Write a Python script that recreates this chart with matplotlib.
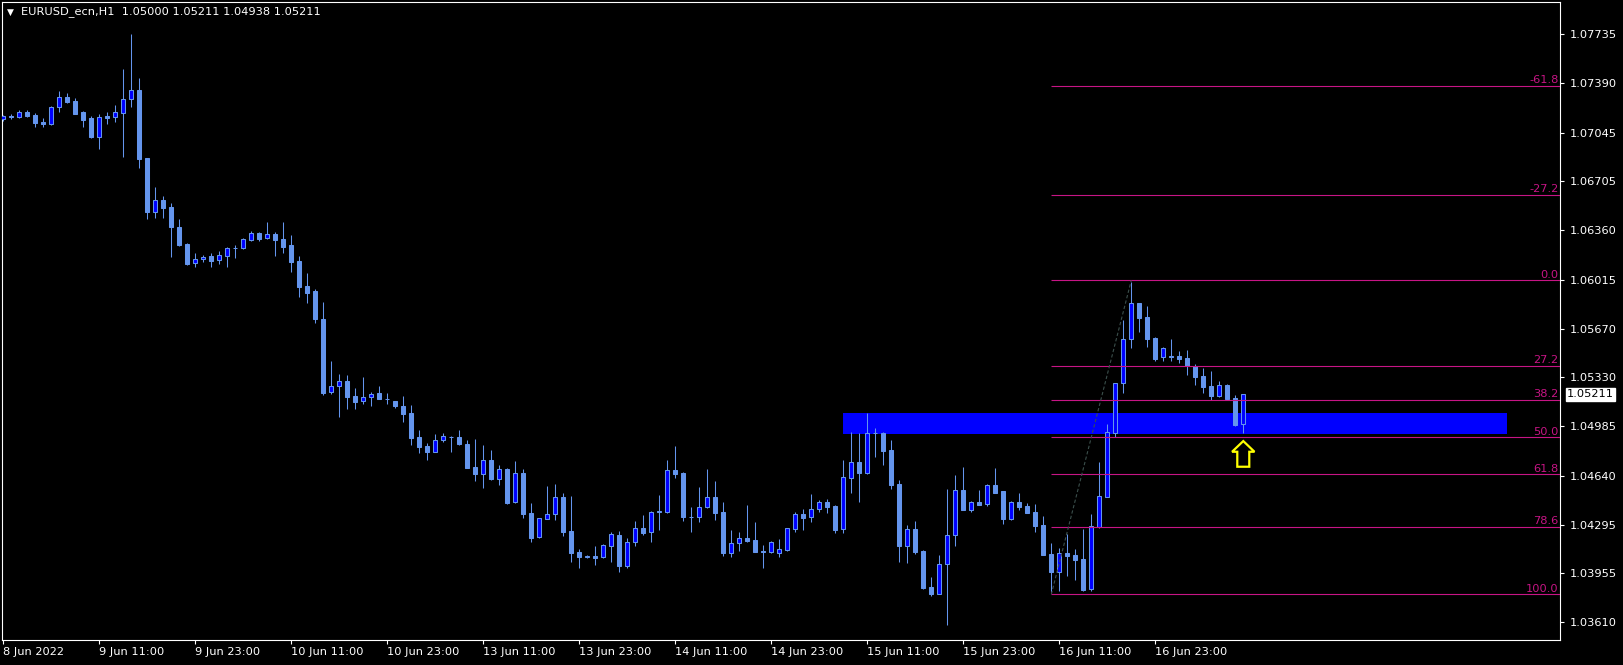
import matplotlib
matplotlib.use('Agg')
import matplotlib.pyplot as plt
from matplotlib.patches import Rectangle, FancyArrow
from matplotlib.transforms import blended_transform_factory

# EURUSD H1 candles, first bar = 8 Jun 2022 23:00
opens = [1.07138, 1.07161, 1.07157, 1.07189, 1.07168, 1.07119, 1.07105, 1.07222, 1.07295, 1.07267,
         1.07189, 1.07147, 1.07016, 1.07159, 1.07157, 1.07180, 1.07278, 1.07344, 1.06867, 1.06486,
         1.06572, 1.06523, 1.06383, 1.06264, 1.06128, 1.06158, 1.06179, 1.06149, 1.06182, 1.06238,
         1.06238, 1.06294, 1.06341, 1.06303, 1.06334, 1.06299, 1.06257, 1.06144, 1.05969, 1.05934,
         1.05738, 1.05223, 1.05265, 1.05303, 1.05195, 1.05160, 1.05188, 1.05216, 1.05179, 1.05162,
         1.05128, 1.05078, 1.04912, 1.04849, 1.04807, 1.04887, 1.04912, 1.04910, 1.04861, 1.04700,
         1.04653, 1.04746, 1.04613, 1.04686, 1.04454, 1.04658, 1.04377, 1.04209, 1.04337, 1.04368,
         1.04489, 1.04251, 1.04103, 1.04072, 1.04073, 1.04066, 1.04143, 1.04223, 1.04005, 1.04171,
         1.04272, 1.04241, 1.04387, 1.04387, 1.04676, 1.04658, 1.04353, 1.04351, 1.04417, 1.04489,
         1.04384, 1.04099, 1.04164, 1.04202, 1.04188, 1.04108, 1.04106, 1.04094, 1.04115, 1.04267,
         1.04368, 1.04347, 1.04407, 1.04452, 1.04426, 1.04267, 1.04625, 1.04735, 1.04660, 1.04940,
         1.04940, 1.04819, 1.04581, 1.04143, 1.04263, 1.04111, 1.03858, 1.03811, 1.04017, 1.04225,
         1.04538, 1.04401, 1.04454, 1.04438, 1.04574, 1.04531, 1.04337, 1.04454, 1.04429, 1.04384,
         1.04291, 1.04090, 1.03966, 1.04097, 1.04083, 1.04052, 1.03844, 1.04281, 1.04492, 1.04941,
         1.05287, 1.05595, 1.05848, 1.05752, 1.05605, 1.05469, 1.05476, 1.05479, 1.05464, 1.05411,
         1.05338, 1.05268, 1.05200, 1.05275, 1.05184, 1.05000]
highs = [1.07168, 1.07173, 1.07203, 1.07203, 1.07180, 1.07147, 1.07232, 1.07337, 1.07323, 1.07285,
         1.07196, 1.07161, 1.07173, 1.07187, 1.07239, 1.07491, 1.07739, 1.07428, 1.06867, 1.06663,
         1.06600, 1.06551, 1.06439, 1.06271, 1.06198, 1.06184, 1.06200, 1.06214, 1.06245, 1.06257,
         1.06306, 1.06357, 1.06348, 1.06420, 1.06348, 1.06420, 1.06327, 1.06179, 1.06063, 1.05950,
         1.05859, 1.05443, 1.05352, 1.05345, 1.05254, 1.05331, 1.05226, 1.05268, 1.05216, 1.05162,
         1.05198, 1.05135, 1.04959, 1.04866, 1.04931, 1.04938, 1.04917, 1.04959, 1.04889, 1.04898,
         1.04854, 1.04819, 1.04714, 1.04693, 1.04739, 1.04686, 1.04447, 1.04344, 1.04566, 1.04580,
         1.04517, 1.04496, 1.04125, 1.04080, 1.04146, 1.04157, 1.04241, 1.04251, 1.04202, 1.04321,
         1.04363, 1.04393, 1.04503, 1.04749, 1.04847, 1.04665, 1.04417, 1.04559, 1.04686, 1.04601,
         1.04454, 1.04258, 1.04241, 1.04433, 1.04316, 1.04153, 1.04178, 1.04195, 1.04272, 1.04382,
         1.04405, 1.04510, 1.04466, 1.04473, 1.04433, 1.04749, 1.04943, 1.04941, 1.05076, 1.04976,
         1.04943, 1.04889, 1.04609, 1.04291, 1.04319, 1.04118, 1.03926, 1.04080, 1.04548, 1.04641,
         1.04697, 1.04461, 1.04538, 1.04581, 1.04690, 1.04533, 1.04461, 1.04515, 1.04445, 1.04438,
         1.04354, 1.04164, 1.04129, 1.04230, 1.04122, 1.04265, 1.04368, 1.04735, 1.05001, 1.05291,
         1.05731, 1.06000, 1.05850, 1.05829, 1.05609, 1.05542, 1.05598, 1.05514, 1.05521, 1.05422,
         1.05394, 1.05373, 1.05301, 1.05282, 1.05203, 1.05211]
lows = [1.07129, 1.07138, 1.07145, 1.07157, 1.07087, 1.07087, 1.07098, 1.07192, 1.07255, 1.07173,
        1.07087, 1.07009, 1.06932, 1.07105, 1.07122, 1.06876, 1.07227, 1.06799, 1.06441, 1.06448,
        1.06448, 1.06175, 1.06250, 1.06116, 1.06105, 1.06140, 1.06105, 1.06126, 1.06105, 1.06168,
        1.06231, 1.06287, 1.06287, 1.06296, 1.06182, 1.06198, 1.06070, 1.05894, 1.05852, 1.05707,
        1.05204, 1.05214, 1.05052, 1.05109, 1.05109, 1.05144, 1.05127, 1.05175, 1.05144, 1.05116,
        1.05015, 1.04854, 1.04800, 1.04751, 1.04805, 1.04877, 1.04807, 1.04856, 1.04693, 1.04604,
        1.04555, 1.04606, 1.04576, 1.04443, 1.04450, 1.04344, 1.04176, 1.04204, 1.04333, 1.04330,
        1.04218, 1.04036, 1.03994, 1.04064, 1.04015, 1.04061, 1.04036, 1.03966, 1.03994, 1.04148,
        1.04223, 1.04176, 1.04260, 1.04375, 1.04625, 1.04323, 1.04246, 1.04316, 1.04412, 1.04328,
        1.04075, 1.04066, 1.04113, 1.04174, 1.04104, 1.03994, 1.04099, 1.04071, 1.04113, 1.04246,
        1.04258, 1.04314, 1.04384, 1.04379, 1.04239, 1.04237, 1.04517, 1.04454, 1.04651, 1.04772,
        1.04714, 1.04548, 1.04036, 1.04029, 1.04090, 1.03844, 1.03797, 1.03807, 1.03590, 1.04148,
        1.04399, 1.04386, 1.04433, 1.04426, 1.04515, 1.04300, 1.04330, 1.04401, 1.04375, 1.04246,
        1.04081, 1.03821, 1.03830, 1.03935, 1.03907, 1.03832, 1.03830, 1.04275, 1.04490, 1.04913,
        1.05221, 1.05537, 1.05649, 1.05544, 1.05446, 1.05446, 1.05446, 1.05432, 1.05348, 1.05277,
        1.05221, 1.05172, 1.05191, 1.05177, 1.04990, 1.04938]
closes = [1.07164, 1.07152, 1.07187, 1.07164, 1.07115, 1.07108, 1.07222, 1.07292, 1.07262, 1.07178,
          1.07136, 1.07014, 1.07152, 1.07150, 1.07187, 1.07278, 1.07344, 1.06862, 1.06486, 1.06570,
          1.06518, 1.06385, 1.06257, 1.06126, 1.06156, 1.06170, 1.06147, 1.06184, 1.06236, 1.06236,
          1.06296, 1.06338, 1.06301, 1.06331, 1.06292, 1.06245, 1.06140, 1.05964, 1.05922, 1.05735,
          1.05221, 1.05268, 1.05303, 1.05193, 1.05158, 1.05188, 1.05214, 1.05179, 1.05177, 1.05127,
          1.05074, 1.04905, 1.04842, 1.04807, 1.04887, 1.04915, 1.04910, 1.04861, 1.04695, 1.04653,
          1.04746, 1.04615, 1.04683, 1.04445, 1.04655, 1.04372, 1.04204, 1.04340, 1.04368, 1.04487,
          1.04246, 1.04099, 1.04071, 1.04074, 1.04064, 1.04150, 1.04227, 1.04008, 1.04171, 1.04269,
          1.04239, 1.04382, 1.04390, 1.04676, 1.04653, 1.04351, 1.04351, 1.04417, 1.04487, 1.04379,
          1.04099, 1.04164, 1.04199, 1.04181, 1.04106, 1.04106, 1.04171, 1.04125, 1.04269, 1.04368,
          1.04344, 1.04407, 1.04452, 1.04421, 1.04260, 1.04632, 1.04733, 1.04658, 1.04936, 1.04938,
          1.04814, 1.04574, 1.04148, 1.04263, 1.04104, 1.03851, 1.03809, 1.04017, 1.04220, 1.04536,
          1.04401, 1.04452, 1.04436, 1.04571, 1.04517, 1.04337, 1.04454, 1.04419, 1.04377, 1.04286,
          1.04083, 1.03963, 1.04097, 1.04078, 1.04047, 1.03839, 1.04284, 1.04494, 1.04943, 1.05287,
          1.05595, 1.05848, 1.05747, 1.05600, 1.05460, 1.05532, 1.05474, 1.05460, 1.05406, 1.05334,
          1.05263, 1.05200, 1.05273, 1.05179, 1.04995, 1.05211]

xtick_labels = ['8 Jun 2022', '9 Jun 11:00', '9 Jun 23:00', '10 Jun 11:00', '10 Jun 23:00',
                '13 Jun 11:00', '13 Jun 23:00', '14 Jun 11:00', '14 Jun 23:00', '15 Jun 11:00',
                '15 Jun 23:00', '16 Jun 11:00', '16 Jun 23:00']
ytick_labels = ['1.07735', '1.07390', '1.07045', '1.06705', '1.06360', '1.06015', '1.05670',
                '1.05330', '1.04985', '1.04640', '1.04295', '1.03955', '1.03610']

# fibonacci retracement (bar 131 low -> bar 141 high)
fib_start_bar, fib_end_bar = 131, 141
fib_low, fib_high = 1.03807, 1.06009
fib_levels = [-61.8, -27.2, 0.0, 27.2, 38.2, 50.0, 61.8, 78.6, 100.0]

# blue support zone
zone_start_bar, zone_end_bar = 105, 188
zone_low, zone_high = 1.04933, 1.05079

arrow_bar = 155
arrow_tip = 1.04882
last_price = 1.05211

up_fill = '#0000FF'
line_col = '#6495ED'
fib_col = '#C71585'

plt.rcParams['font.family'] = ['DejaVu Sans']
fs = 8.2

fig = plt.figure(figsize=(16.23, 6.65), dpi=100, facecolor='black')
ax = fig.add_axes([2 / 1623, 25 / 665, 1558 / 1623, 638 / 665], facecolor='black')
ax.set_xlim(-0.16, 194.59)
ax.set_ylim(1.03487, 1.07961)

# zone behind the candles
ax.add_patch(Rectangle((zone_start_bar, zone_low), zone_end_bar - zone_start_bar,
                       zone_high - zone_low, facecolor=up_fill, edgecolor='none', zorder=1))

# candles
xs = list(range(len(opens)))
ax.vlines(xs, lows, highs, color=line_col, lw=0.75, zorder=3)
bottoms = [min(o, c) for o, c in zip(opens, closes)]
heights = [abs(c - o) for o, c in zip(opens, closes)]
fills = [up_fill if c > o else line_col for o, c in zip(opens, closes)]
ax.bar(xs, heights, bottom=bottoms, width=0.5, color=fills, edgecolor=line_col,
       linewidth=0.75, zorder=4)

# fibo levels
rng = fib_high - fib_low
for lv in fib_levels:
    p = fib_high - rng * lv / 100.0
    ax.hlines(p, fib_start_bar, 194.59, color=fib_col, lw=0.8, zorder=5)
    ax.text(194.4, p + 0.00006, '%.1f' % lv, color=fib_col, fontsize=fs,
            ha='right', va='bottom', zorder=6)
ax.plot([fib_start_bar, fib_end_bar], [fib_low, fib_high], color='#3b4f4c', lw=0.8,
        ls=(0, (3, 2)), zorder=5)

# yellow arrow
ax.add_patch(FancyArrow(arrow_bar, arrow_tip - 0.0018, 0, 0.0018, width=1.5, head_width=2.8,
                        head_length=0.00075, length_includes_head=True, fill=False,
                        edgecolor='#FFFF00', lw=1.6, zorder=7))

# axes styling
for s in ax.spines.values():
    s.set_color('white')
    s.set_linewidth(0.8)
ax.yaxis.tick_right()
ax.set_yticks([float(t) for t in ytick_labels])
ax.set_yticklabels(ytick_labels)
ax.set_xticks([12 * i for i in range(len(xtick_labels))])
ax.set_xticklabels(xtick_labels)
ax.tick_params(axis='both', colors='white', labelcolor='white', labelsize=fs, length=3,
               width=0.8)
ax.tick_params(axis='y', pad=4)
ax.tick_params(axis='x', pad=2)
for lab in ax.get_xticklabels():
    lab.set_ha('left')
    lab.set_x(lab.get_position()[0])
ax.figure.canvas.draw()

# current price box
tr = blended_transform_factory(ax.transAxes, ax.transData)
ax.text(1.0045, last_price, '1.05211', transform=tr, color='black', fontsize=fs,
        ha='left', va='center',
        bbox=dict(boxstyle='square,pad=0.12', facecolor='white', edgecolor='white'),
        zorder=10, clip_on=False)

# header
fig.text(10 / 1623, 1 - 12 / 665, '\u25bc', color='white', fontsize=6.5, ha='center', va='center')
fig.text(21 / 1623, 1 - 12 / 665, 'EURUSD_ecn,H1  1.05000 1.05211 1.04938 1.05211',
         color='white', fontsize=fs, ha='left', va='center')

fig.savefig('out.png', dpi=100, facecolor='black')
